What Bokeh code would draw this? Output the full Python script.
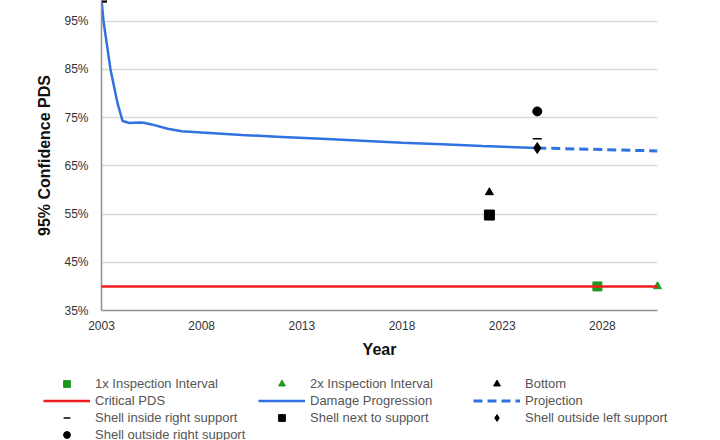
from bokeh.plotting import figure
from bokeh.layouts import column
from bokeh.models import Range1d, FixedTicker, Legend, LegendItem
from bokeh.embed import file_html
from bokeh.resources import INLINE

# ---- data ----
dp_year = [2003.0, 2003.1, 2003.45, 2003.8, 2004.05, 2004.4, 2004.9, 2005.1, 2005.5,
           2006.3, 2007.0, 2008.0, 2010.0, 2012.0, 2014.0, 2016.0, 2018.0, 2020.0,
           2022.0, 2024.75]
dp_pds = [99.6, 95.0, 85.0, 78.0, 74.3, 73.9, 74.0, 73.95, 73.6,
          72.7, 72.2, 71.9, 71.4, 71.0, 70.6, 70.2, 69.8, 69.5,
          69.1, 68.7]
proj_year = [2024.75, 2030.75]
proj_pds = [68.7, 68.1]
crit_year = [2003.0, 2030.75]
crit_pds = [40.0, 40.0]
insp1_year = [2027.75]
insp1_pds = [40.0]
insp2_year = [2030.75]
insp2_pds = [40.0]
bottom_year = [2022.36]
bottom_pds = [59.5]
next_year = [2003.0, 2022.36]
next_pds = [100.0, 54.8]
in_right_year = [2024.75]
in_right_pds = [70.6]
out_left_year = [2024.75]
out_left_pds = [68.7]
out_right_year = [2024.75]
out_right_pds = [76.3]

xticks = [2003, 2008, 2013, 2018, 2023, 2028]
yticks = [35, 45, 55, 65, 75, 85, 95]
ytick_labels = ["35%", "45%", "55%", "65%", "75%", "85%", "95%"]

FONT = "Liberation Sans"
RED = "#ee1c1c"
BLUE = "#2f72e0"
GREEN = "#1f9a1f"


def add_series(f):
    r = {}
    r["dp"] = f.line(dp_year, dp_pds, line_color=BLUE, line_width=2.5)
    r["proj"] = f.line(proj_year, proj_pds, line_color=BLUE, line_width=3, line_dash="9 5")
    r["in1"] = f.scatter(insp1_year, insp1_pds, marker="square", size=9,
                         fill_color=GREEN, line_color=GREEN)
    r["in2"] = f.scatter(insp2_year, insp2_pds, marker="triangle", size=8,
                         fill_color=GREEN, line_color=GREEN, level="overlay")
    r["crit"] = f.line(crit_year, crit_pds, line_color=RED, line_width=2.5, level="overlay")
    r["bot"] = f.scatter(bottom_year, bottom_pds, marker="triangle", size=8, color="black")
    r["next"] = f.scatter(next_year, next_pds, marker="square", size=10, color="black")
    r["inr"] = f.scatter(in_right_year, in_right_pds, marker="dash", size=9,
                         line_color="black", line_width=1.5)
    r["outl"] = f.scatter(out_left_year, out_left_pds, marker="diamond", size=11,
                          color="black")
    r["outr"] = f.scatter(out_right_year, out_right_pds, marker="circle", size=9,
                          color="black")
    return r


p = figure(width=720, height=362, output_backend="svg", toolbar_location=None,
           x_range=Range1d(2003, 2030.75), y_range=Range1d(35, 99.3),
           min_border_left=101, min_border_right=63, min_border_top=0,
           min_border_bottom=52, frame_align=False)
p.outline_line_color = None
p.background_fill_color = "white"
p.border_fill_color = "white"

p.xgrid.visible = False
p.ygrid.ticker = FixedTicker(ticks=yticks)
p.ygrid.grid_line_color = "#d9d9d9"
p.ygrid.grid_line_width = 1.5

p.xaxis.ticker = FixedTicker(ticks=xticks)
p.yaxis.ticker = FixedTicker(ticks=yticks)
p.yaxis.major_label_overrides = {t: l for t, l in zip(yticks, ytick_labels)}
for ax in (p.xaxis, p.yaxis):
    ax.axis_line_color = "#8f8f8f"
    ax.axis_line_width = 1.5
    ax.major_tick_line_color = None
    ax.minor_tick_line_color = None
    ax.major_tick_out = 0
    ax.major_tick_in = 0
    ax.major_label_text_font = FONT
    ax.major_label_text_font_size = "12px"
    ax.major_label_text_color = "#333333"
    ax.axis_label_text_font = FONT
    ax.axis_label_text_font_style = "bold"
    ax.axis_label_text_font_size = "16px"
    ax.axis_label_text_color = "#111111"
p.yaxis.major_label_standoff = 13
p.yaxis.axis_label_standoff = 8
p.xaxis.major_label_standoff = 10
p.xaxis.axis_label_standoff = 8
p.xaxis.axis_label = "Year"
p.yaxis.axis_label = "95% Confidence PDS"

add_series(p)

# legend panel: a second figure whose frame holds only the legend
lg = figure(width=720, height=78, output_backend="svg", toolbar_location=None,
            x_range=Range1d(0, 1), y_range=Range1d(0, 1),
            x_axis_type=None, y_axis_type=None, frame_align=False,
            min_border_left=0, min_border_right=0, min_border_top=0, min_border_bottom=0)
lg.outline_line_color = None
lg.xgrid.visible = False
lg.ygrid.visible = False
lg.border_fill_color = "white"
lr = add_series(lg)  # same series, out of this panel's view; used for legend glyphs

labels = ["1x Inspection Interval", "2x Inspection Interval", "Bottom",
          "Critical PDS", "Damage Progression", "Projection",
          "Shell inside right support", "Shell next to support",
          "Shell outside left support", "Shell outside right support"]
keys = ["in1", "in2", "bot", "crit", "dp", "proj", "inr", "next", "outl", "outr"]
items = [LegendItem(label=l, renderers=[lr[k]]) for l, k in zip(labels, keys)]
legend = Legend(items=items, orientation="horizontal", ncols=3,
                location=(43, -3), padding=0, margin=0, spacing=0,
                glyph_width=47, glyph_height=17, label_height=17,
                label_width=163, label_standoff=5,
                label_text_font=FONT, label_text_font_size="13px",
                label_text_color="#555555",
                border_line_color=None, background_fill_alpha=0)
lg.add_layout(legend, "center")

layout = column(p, lg, spacing=0, margin=0)
open("out.html", "w").write(file_html(layout, INLINE))
